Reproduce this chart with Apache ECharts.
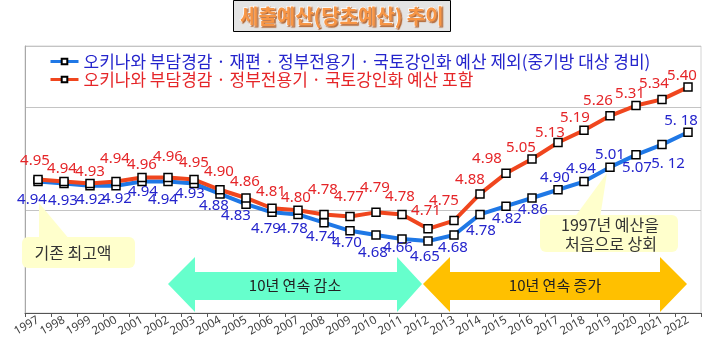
<!DOCTYPE html>
<html><head><meta charset="utf-8">
<script src="https://cdn.jsdelivr.net/npm/echarts@6/dist/echarts.min.js"></script>
<style>html,body{margin:0;padding:0;background:#fff}#c{width:712px;height:355px}</style>
</head><body><div id="c"></div>
<script>
const years = ['1997','1998','1999','2000','2001','2002','2003','2004','2005','2006','2007','2008','2009','2010','2011','2012','2013','2014','2015','2016','2017','2018','2019','2020','2021','2022'];
const seriesNames = ['오키나와 부담경감 · 재편 · 정부전용기 · 국토강인화 예산 제외(중기방 대상 경비)', '오키나와 부담경감 · 정부전용기 · 국토강인화 예산 포함'];
const excludedValues = [4.94,4.93,4.92,4.92,4.94,4.94,4.93,4.88,4.83,4.79,4.78,4.74,4.70,4.68,4.66,4.65,4.68,4.78,4.82,4.86,4.90,4.94,5.01,5.07,5.12,5.18];
const excludedLabels = ['4.94','4.93','4.92','4.92','4.94','4.94','4.93','4.88','4.83','4.79','4.78','4.74','4.70','4.68','4.66','4.65','4.68','4.78','4.82','4.86','4.90','4.94','5.01','5.07','5. 12','5. 18'];
const includedValues = [4.95,4.94,4.93,4.94,4.96,4.96,4.95,4.90,4.86,4.81,4.80,4.78,4.77,4.79,4.78,4.71,4.75,4.88,4.98,5.05,5.13,5.19,5.26,5.31,5.34,5.40];
const titleText = '세출예산(당초예산) 추이';

// label placement (pixel offsets from each point), kept apart from the data
const blueOff = [[-6,18],[-1,17],[1,14],[1,13],[1,10],[-5,18],[-4,10],[-6,12],[-10,12],[-6,16],[-5,14],[-3,14],[-3,12],[-3,18],[-4,9],[-3,16],[-1,13],[1,16],[1,13],[1,12],[-3,-12],[-3,-13],[0,-12],[1,13],[6,19],[-7,-12]];
const redOff = [[-3,-19],[-2,-13],[0,-12],[-1,-23],[0,-13],[0,-21],[0,-17],[-1,-18],[-1,-16],[-1,-17],[-2,-13],[-1,-25],[-1,-20],[-1,-25],[-2,-18],[-2,-18],[-10,-20],[-10,-14],[-19,-15],[-11,-11],[-8,-10],[-9,-12],[-12,-15],[-6,-12],[-8,-16],[-6,-11]];

const chart = echarts.init(document.getElementById('c'), null, {renderer:'canvas'});
const blueLine = '#1f78e6', redLine = '#f0461e';
const blueText = '#2424cc', redText = '#e52528';

function mk(values, offs, texts) {
  return values.map((v,i)=>({value:v, label:{offset:offs[i], formatter: texts ? texts[i] : v.toFixed(2)}}));
}

const option = {
  animation:false,
  backgroundColor:'#ffffff',
  title:{
    text:titleText, left:234, top:1,
    backgroundColor:'#e4e4e4', borderColor:'#000', borderWidth:1, padding:[5,6,5,6],
    textStyle:{fontFamily:'Noto Sans CJK KR', fontSize:20, fontWeight:'bold', color:'#f79646',
      textBorderColor:'#ffffff', textBorderWidth:1.5, textShadowColor:'rgba(170,80,20,0.8)', textShadowOffsetX:1, textShadowOffsetY:1, textShadowBlur:1}
  },
  legend:{
    orient:'vertical', left:44, top:48, itemWidth:28, itemHeight:7, itemGap:1,
    lineStyle:{width:3},
    data:[{name:seriesNames[0], textStyle:{color:blueText}},{name:seriesNames[1], textStyle:{color:redText}}],
    textStyle:{fontFamily:'Noto Sans CJK KR', fontSize:17}
  },
  grid:{left:25, right:11, top:46, bottom:42, show:true, borderColor:'#d4d4d4', borderWidth:1},
  xAxis:{
    type:'category', data:years, boundaryGap:true,
    axisLine:{lineStyle:{color:'#555', width:1}},
    axisTick:{show:true, length:4, lineStyle:{color:'#555'}},
    axisLabel:{rotate:30, fontSize:11.5, color:'#404040', fontFamily:'Noto Sans', margin:6, interval:0}
  },
  yAxis:{
    type:'value', min:4.3, max:5.6, interval:0.5,
    axisLine:{show:true, lineStyle:{color:'#a8a8a8'}},
    axisTick:{show:false}, axisLabel:{show:false},
    splitLine:{lineStyle:{color:'#c4c4c4', width:1}}
  },
  series:[
    {name:seriesNames[0], type:'line', data:mk(excludedValues, blueOff, excludedLabels),
     symbol:'rect', symbolSize:8, lineStyle:{color:blueLine, width:4},
     itemStyle:{color:'#ffffff', borderColor:'#000', borderWidth:1.5},
     label:{show:true, position:'inside', align:'center', verticalAlign:'middle', color:blueText, fontSize:15, fontFamily:'Noto Sans'}, z:3},
    {name:seriesNames[1], type:'line', data:mk(includedValues, redOff),
     symbol:'rect', symbolSize:8, lineStyle:{color:redLine, width:4},
     itemStyle:{color:'#ffffff', borderColor:'#000', borderWidth:1.5},
     label:{show:true, position:'inside', align:'center', verticalAlign:'middle', color:redText, fontSize:15, fontFamily:'Noto Sans'}, z:4}
  ],
  graphic:[
    {type:'polygon', z:10, shape:{points:[[168,284],[195,257],[195,272],[397,272],[397,257],[422,284],[397,312],[397,300],[195,300],[195,312]]}, style:{fill:'#66ffcc'}},
    {type:'text', z:11, x:295, y:285, style:{text:'10년 연속 감소', fontFamily:'Noto Sans CJK KR', fontSize:15, fill:'#222', align:'center', verticalAlign:'middle'}},
    {type:'polygon', z:10, shape:{points:[[423,284],[450,257],[450,272],[660,272],[660,257],[687,284],[660,312],[660,300],[450,300],[450,312]]}, style:{fill:'#ffc000'}},
    {type:'text', z:11, x:555, y:285, style:{text:'10년 연속 증가', fontFamily:'Noto Sans CJK KR', fontSize:15, fill:'#222', align:'center', verticalAlign:'middle'}},
    {type:'polygon', z:12, shape:{points:[[39,203],[39,240],[70,240]]}, style:{fill:'#ffffcc'}},
    {type:'rect', z:12, shape:{x:22, y:237, width:113, height:31, r:6}, style:{fill:'#ffffcc'}},
    {type:'text', z:13, x:73, y:253, style:{text:'기존 최고액', fontFamily:'Noto Sans CJK KR', fontSize:16, fill:'#333', align:'center', verticalAlign:'middle'}},
    {type:'polygon', z:12, shape:{points:[[607,173],[574,218],[600,218]]}, style:{fill:'#ffffcc'}},
    {type:'rect', z:12, shape:{x:540, y:215, width:138, height:37, r:6}, style:{fill:'#ffffcc'}},
    {type:'text', z:13, x:610, y:225, style:{text:'1997년 예산을', fontFamily:'Noto Sans CJK KR', fontSize:16, fill:'#333', align:'center', verticalAlign:'middle'}},
    {type:'text', z:13, x:611, y:244, style:{text:'처음으로 상회', fontFamily:'Noto Sans CJK KR', fontSize:16, fill:'#333', align:'center', verticalAlign:'middle'}}
  ]
};
chart.setOption(option);
</script></body></html>
